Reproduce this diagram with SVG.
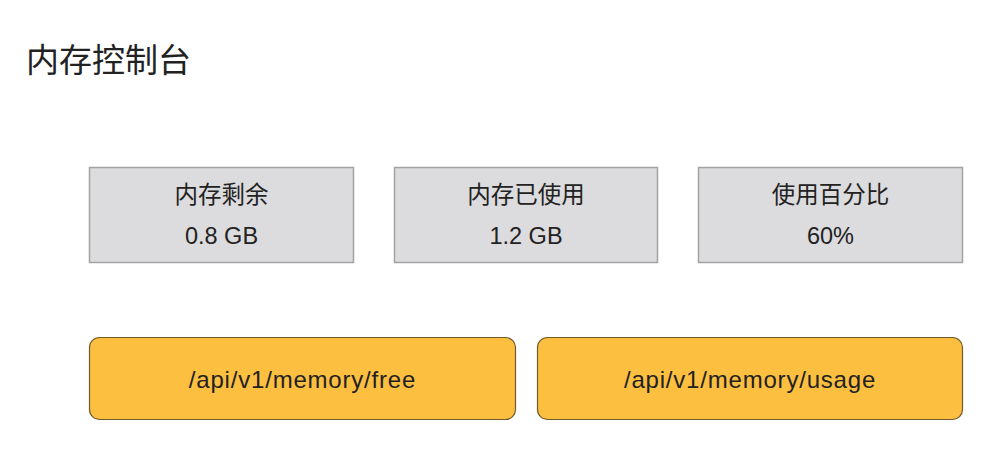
<svg xmlns="http://www.w3.org/2000/svg" width="1006" height="468" viewBox="0 0 1006 468">
<style>
.cjk{font-family:"Noto Sans CJK SC","Liberation Sans",sans-serif;fill:#222;}
.lat{font-family:"Liberation Sans","Noto Sans CJK SC",sans-serif;fill:#222;}
.gray{fill:#dcdbdd;stroke:#a3a3a3;stroke-width:1.5;}
.api{fill:#fdbf3f;stroke:#6f5a2c;stroke-width:1.2;}
</style>
<rect width="1006" height="468" fill="#ffffff"/>
<g id="title"><text class="cjk" x="26" y="72" font-size="33">内存控制台</text></g>
<g id="box-free">
<rect class="gray" x="89.5" y="167.5" width="264" height="95"/>
<text class="cjk" x="221.5" y="203" font-size="23.5" text-anchor="middle">内存剩余</text>
<text class="lat" x="221.5" y="244" font-size="23.5" text-anchor="middle">0.8 GB</text>
</g>
<g id="box-used">
<rect class="gray" x="394.5" y="167.5" width="263" height="95"/>
<text class="cjk" x="526" y="203" font-size="23.5" text-anchor="middle">内存已使用</text>
<text class="lat" x="526" y="244" font-size="23.5" text-anchor="middle">1.2 GB</text>
</g>
<g id="box-pct">
<rect class="gray" x="698.5" y="167.5" width="264" height="95"/>
<text class="cjk" x="830.5" y="203" font-size="23.5" text-anchor="middle">使用百分比</text>
<text class="lat" x="830.5" y="244" font-size="23.5" text-anchor="middle">60%</text>
</g>
<g id="api-free">
<rect class="api" x="89.5" y="337.5" width="426" height="82" rx="10" ry="10"/>
<text class="lat" x="302.5" y="388" font-size="24" letter-spacing="0.8" text-anchor="middle">/api/v1/memory/free</text>
</g>
<g id="api-usage">
<rect class="api" x="537.5" y="337.5" width="425" height="82" rx="10" ry="10"/>
<text class="lat" x="750" y="388" font-size="24" letter-spacing="0.8" text-anchor="middle">/api/v1/memory/usage</text>
</g>
<g id="connectors"></g>
</svg>
